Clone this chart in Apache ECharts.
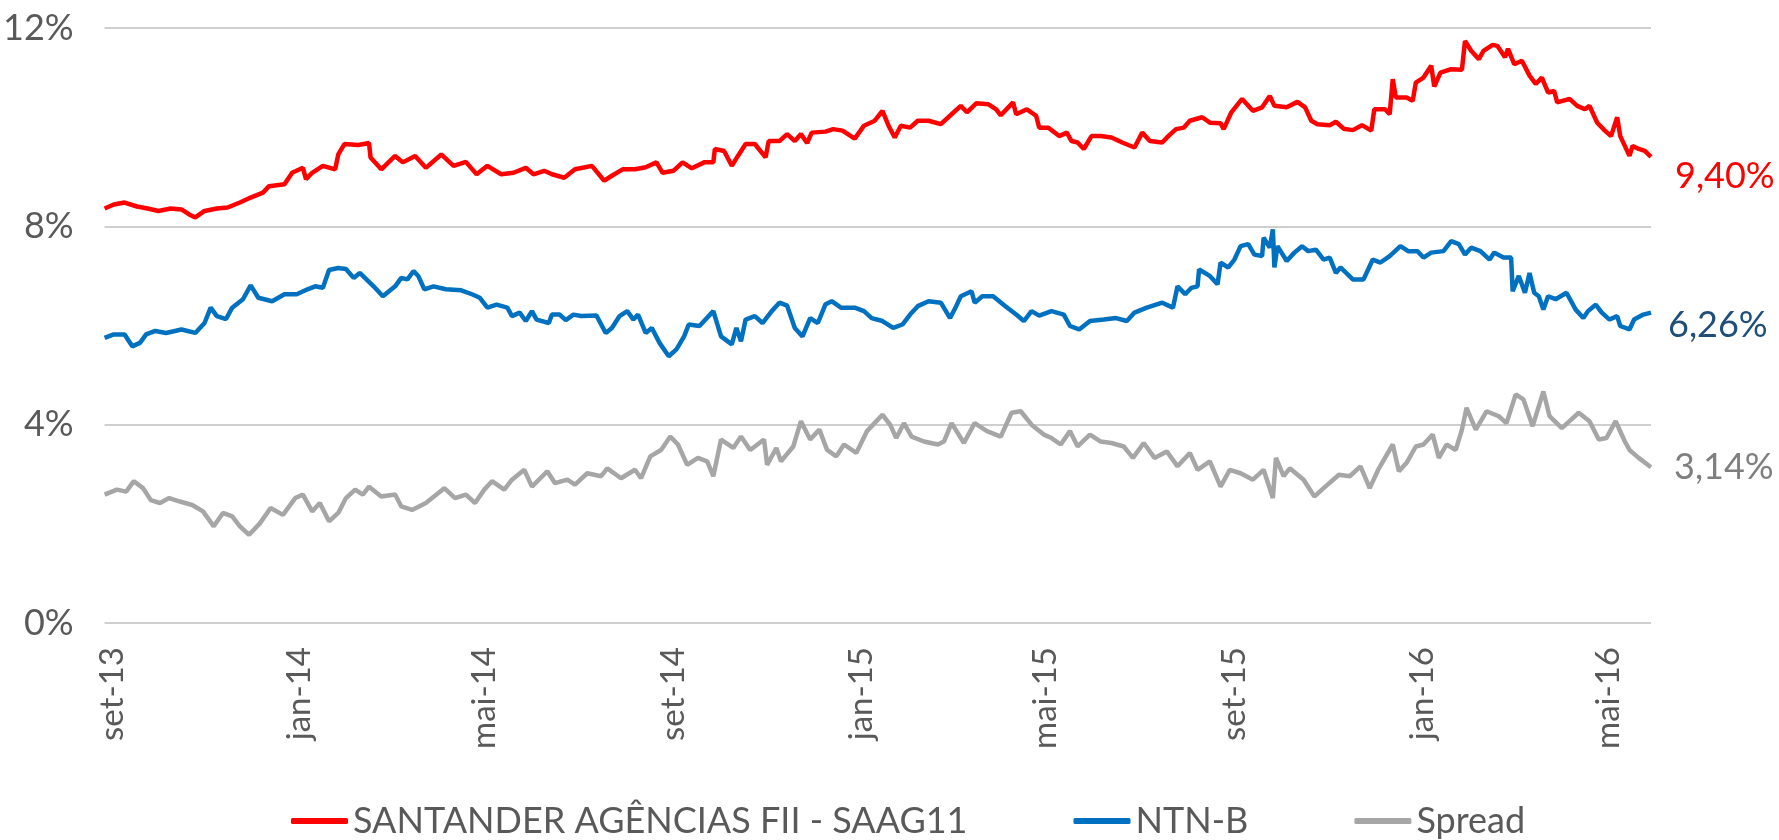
<!DOCTYPE html>
<html>
<head>
<meta charset="utf-8">
<script src="https://cdn.jsdelivr.net/npm/echarts@6/dist/echarts.min.js"></script>
<style>
  html, body { margin: 0; padding: 0; background: #fff; }
  #chart { width: 1779px; height: 840px; }
</style>
</head>
<body>
<div id="chart"></div>
<script>
// taxas (% a.a.)
const saagDates = ['2013-08-27','2013-09-02','2013-09-09','2013-09-17','2013-09-24','2013-10-01','2013-10-09','2013-10-16','2013-10-21','2013-10-25','2013-10-31','2013-11-08','2013-11-15','2013-11-23','2013-11-30','2013-12-08','2013-12-12','2013-12-22','2013-12-27','2014-01-03','2014-01-05','2014-01-09','2014-01-16','2014-01-24','2014-01-26','2014-01-30','2014-02-08','2014-02-15','2014-02-16','2014-02-23','2014-03-04','2014-03-09','2014-03-17','2014-03-24','2014-04-03','2014-04-11','2014-04-19','2014-04-26','2014-05-03','2014-05-12','2014-05-20','2014-05-28','2014-06-02','2014-06-09','2014-06-14','2014-06-22','2014-06-29','2014-07-10','2014-07-18','2014-07-23','2014-07-30','2014-08-07','2014-08-14','2014-08-21','2014-08-25','2014-09-01','2014-09-07','2014-09-13','2014-09-21','2014-09-27','2014-09-28','2014-10-04','2014-10-09','2014-10-13','2014-10-18','2014-10-24','2014-10-31','2014-11-02','2014-11-09','2014-11-14','2014-11-19','2014-11-23','2014-11-27','2014-11-30','2014-12-09','2014-12-14','2014-12-20','2014-12-28','2015-01-03','2015-01-10','2015-01-15','2015-01-19','2015-01-23','2015-01-27','2015-02-02','2015-02-07','2015-02-14','2015-02-22','2015-03-01','2015-03-07','2015-03-11','2015-03-17','2015-03-25','2015-03-30','2015-04-02','2015-04-10','2015-04-12','2015-04-19','2015-04-25','2015-04-27','2015-05-03','2015-05-10','2015-05-15','2015-05-18','2015-05-22','2015-05-26','2015-05-31','2015-06-06','2015-06-13','2015-06-20','2015-06-28','2015-07-03','2015-07-08','2015-07-16','2015-07-20','2015-07-25','2015-07-30','2015-08-03','2015-08-11','2015-08-16','2015-08-23','2015-08-25','2015-08-30','2015-09-06','2015-09-13','2015-09-19','2015-09-24','2015-09-27','2015-10-05','2015-10-12','2015-10-17','2015-10-21','2015-10-25','2015-11-02','2015-11-06','2015-11-11','2015-11-17','2015-11-23','2015-11-29','2015-12-01','2015-12-08','2015-12-11','2015-12-13','2015-12-15','2015-12-22','2015-12-26','2015-12-28','2016-01-02','2016-01-07','2016-01-09','2016-01-13','2016-01-20','2016-01-27','2016-01-29','2016-02-02','2016-02-07','2016-02-10','2016-02-16','2016-02-19','2016-02-24','2016-02-26','2016-03-01','2016-03-06','2016-03-11','2016-03-15','2016-03-19','2016-03-23','2016-03-27','2016-03-29','2016-04-06','2016-04-11','2016-04-16','2016-04-19','2016-04-24','2016-04-29','2016-05-03','2016-05-07','2016-05-09','2016-05-15','2016-05-17','2016-05-21','2016-05-25','2016-05-29'];
const saagRates = [8.36,8.44,8.48,8.40,8.36,8.31,8.36,8.34,8.24,8.18,8.31,8.36,8.38,8.48,8.58,8.68,8.81,8.85,9.08,9.18,8.95,9.08,9.22,9.15,9.45,9.66,9.64,9.68,9.39,9.15,9.42,9.29,9.42,9.18,9.45,9.22,9.30,9.05,9.22,9.05,9.08,9.18,9.05,9.12,9.05,8.98,9.15,9.22,8.92,9.02,9.15,9.15,9.19,9.29,9.08,9.12,9.29,9.17,9.29,9.29,9.56,9.52,9.22,9.42,9.66,9.66,9.39,9.72,9.72,9.86,9.72,9.86,9.68,9.89,9.91,9.96,9.93,9.77,10.03,10.13,10.33,10.03,9.79,10.03,9.99,10.13,10.13,10.06,10.26,10.43,10.30,10.48,10.46,10.36,10.24,10.50,10.26,10.36,10.23,9.99,9.99,9.82,9.89,9.72,9.69,9.56,9.82,9.82,9.79,9.69,9.59,9.89,9.72,9.69,9.82,9.96,9.99,10.13,10.20,10.09,10.08,9.96,10.30,10.57,10.33,10.40,10.63,10.43,10.40,10.51,10.40,10.13,10.06,10.04,10.11,9.97,9.94,10.04,9.93,10.36,10.36,10.26,10.97,10.60,10.60,10.53,10.90,11.00,11.24,10.82,11.10,11.17,11.16,11.74,11.54,11.37,11.54,11.66,11.64,11.41,11.58,11.27,11.34,11.04,10.87,11.00,10.70,10.73,10.50,10.57,10.43,10.36,10.43,10.09,9.93,9.82,10.20,9.82,9.42,9.62,9.56,9.52,9.40];

const ntnbDates = ['2013-08-27','2013-09-02','2013-09-09','2013-09-14','2013-09-19','2013-09-23','2013-09-29','2013-10-06','2013-10-16','2013-10-25','2013-10-31','2013-11-04','2013-11-08','2013-11-14','2013-11-18','2013-11-25','2013-11-30','2013-12-05','2013-12-14','2013-12-22','2013-12-30','2014-01-06','2014-01-11','2014-01-16','2014-01-20','2014-01-26','2014-01-31','2014-02-05','2014-02-09','2014-02-18','2014-02-24','2014-03-04','2014-03-08','2014-03-12','2014-03-16','2014-03-19','2014-03-23','2014-03-29','2014-04-06','2014-04-16','2014-04-23','2014-04-28','2014-05-03','2014-05-09','2014-05-16','2014-05-19','2014-05-24','2014-05-28','2014-06-01','2014-06-04','2014-06-12','2014-06-14','2014-06-19','2014-06-23','2014-06-28','2014-07-03','2014-07-13','2014-07-19','2014-07-23','2014-07-28','2014-08-02','2014-08-06','2014-08-09','2014-08-14','2014-08-18','2014-08-23','2014-08-29','2014-09-03','2014-09-08','2014-09-11','2014-09-18','2014-09-21','2014-09-27','2014-10-02','2014-10-09','2014-10-12','2014-10-15','2014-10-18','2014-10-24','2014-10-29','2014-11-04','2014-11-09','2014-11-14','2014-11-19','2014-11-24','2014-11-29','2014-12-04','2014-12-09','2014-12-13','2014-12-19','2014-12-28','2015-01-03','2015-01-08','2015-01-15','2015-01-22','2015-01-28','2015-02-02','2015-02-07','2015-02-14','2015-02-22','2015-02-28','2015-03-04','2015-03-07','2015-03-14','2015-03-16','2015-03-21','2015-03-28','2015-04-05','2015-04-12','2015-04-17','2015-04-22','2015-04-27','2015-05-05','2015-05-13','2015-05-17','2015-05-23','2015-05-30','2015-06-08','2015-06-16','2015-06-23','2015-06-28','2015-07-06','2015-07-16','2015-07-23','2015-07-26','2015-07-31','2015-08-04','2015-08-08','2015-08-09','2015-08-16','2015-08-21','2015-08-23','2015-08-28','2015-09-01','2015-09-05','2015-09-10','2015-09-14','2015-09-19','2015-09-20','2015-09-24','2015-09-26','2015-09-27','2015-09-29','2015-10-05','2015-10-10','2015-10-15','2015-10-19','2015-10-24','2015-10-29','2015-11-02','2015-11-06','2015-11-09','2015-11-17','2015-11-24','2015-11-30','2015-12-05','2015-12-11','2015-12-18','2015-12-23','2015-12-29','2016-01-02','2016-01-07','2016-01-15','2016-01-20','2016-01-25','2016-01-29','2016-02-02','2016-02-08','2016-02-14','2016-02-17','2016-02-23','2016-02-28','2016-02-29','2016-03-04','2016-03-08','2016-03-11','2016-03-14','2016-03-17','2016-03-20','2016-03-23','2016-03-28','2016-04-04','2016-04-10','2016-04-15','2016-04-18','2016-04-23','2016-04-27','2016-05-02','2016-05-07','2016-05-09','2016-05-15','2016-05-18','2016-05-24','2016-05-29'];
const ntnbRates = [5.75,5.82,5.82,5.58,5.65,5.82,5.89,5.85,5.92,5.85,6.05,6.36,6.19,6.13,6.36,6.53,6.81,6.56,6.49,6.63,6.63,6.73,6.79,6.76,7.12,7.16,7.14,6.96,7.06,6.79,6.59,6.79,6.96,6.93,7.10,7.00,6.73,6.79,6.73,6.71,6.63,6.56,6.36,6.42,6.36,6.19,6.26,6.09,6.29,6.12,6.05,6.22,6.22,6.11,6.22,6.19,6.20,5.85,5.95,6.19,6.29,6.12,6.22,5.85,5.95,5.65,5.38,5.52,5.78,6.02,5.99,6.09,6.29,5.78,5.62,5.95,5.68,6.12,6.19,6.05,6.29,6.46,6.40,5.95,5.78,6.15,6.05,6.43,6.49,6.36,6.36,6.29,6.15,6.09,5.95,6.02,6.22,6.39,6.49,6.46,6.15,6.39,6.59,6.69,6.46,6.59,6.59,6.39,6.22,6.09,6.29,6.20,6.29,6.22,5.99,5.92,6.09,6.12,6.15,6.09,6.26,6.36,6.46,6.36,6.79,6.63,6.76,6.79,7.13,7.00,6.83,7.27,7.17,7.33,7.60,7.64,7.43,7.40,7.77,7.57,7.94,7.17,7.60,7.30,7.47,7.60,7.50,7.53,7.33,7.37,7.06,7.17,6.93,6.93,7.33,7.27,7.40,7.60,7.50,7.50,7.37,7.47,7.50,7.70,7.64,7.43,7.57,7.50,7.33,7.47,7.37,7.37,6.69,7.00,6.66,7.06,6.66,6.59,6.32,6.59,6.53,6.66,6.32,6.15,6.29,6.42,6.26,6.12,6.19,5.99,5.92,6.12,6.22,6.26];

const spreadDates = ['2013-08-27','2013-09-04','2013-09-10','2013-09-15','2013-09-21','2013-09-26','2013-10-02','2013-10-08','2013-10-15','2013-10-23','2013-10-30','2013-11-06','2013-11-12','2013-11-18','2013-11-23','2013-11-29','2013-12-06','2013-12-13','2013-12-21','2013-12-29','2014-01-03','2014-01-09','2014-01-14','2014-01-20','2014-01-26','2014-01-31','2014-02-06','2014-02-11','2014-02-15','2014-02-23','2014-03-04','2014-03-08','2014-03-15','2014-03-24','2014-04-05','2014-04-12','2014-04-19','2014-04-25','2014-05-01','2014-05-06','2014-05-14','2014-05-19','2014-05-27','2014-06-01','2014-06-11','2014-06-16','2014-06-24','2014-06-29','2014-07-07','2014-07-16','2014-07-20','2014-07-29','2014-08-07','2014-08-11','2014-08-17','2014-08-24','2014-08-30','2014-09-04','2014-09-10','2014-09-17','2014-09-23','2014-09-27','2014-10-02','2014-10-10','2014-10-15','2014-10-21','2014-10-30','2014-11-01','2014-11-07','2014-11-10','2014-11-18','2014-11-23','2014-11-29','2014-12-05','2014-12-10','2014-12-16','2014-12-21','2014-12-29','2015-01-05','2015-01-15','2015-01-20','2015-01-24','2015-01-29','2015-02-03','2015-02-11','2015-02-20','2015-02-24','2015-03-01','2015-03-09','2015-03-16','2015-03-24','2015-04-02','2015-04-09','2015-04-15','2015-04-22','2015-04-30','2015-05-05','2015-05-11','2015-05-17','2015-05-22','2015-05-30','2015-06-06','2015-06-13','2015-06-21','2015-06-27','2015-07-04','2015-07-11','2015-07-19','2015-07-26','2015-08-03','2015-08-08','2015-08-16','2015-08-23','2015-08-29','2015-09-05','2015-09-13','2015-09-20','2015-09-26','2015-09-28','2015-10-03','2015-10-07','2015-10-16','2015-10-23','2015-10-29','2015-11-08','2015-11-15','2015-11-22','2015-11-28','2015-12-04','2015-12-13','2015-12-17','2015-12-22','2015-12-28','2016-01-02','2016-01-08','2016-01-12','2016-01-17','2016-01-23','2016-01-27','2016-01-30','2016-02-05','2016-02-12','2016-02-20','2016-02-25','2016-03-02','2016-03-07','2016-03-13','2016-03-20','2016-03-24','2016-04-01','2016-04-06','2016-04-12','2016-04-19','2016-04-25','2016-04-30','2016-05-06','2016-05-12','2016-05-15','2016-05-21','2016-05-29'];
const spreadRates = [2.59,2.69,2.65,2.86,2.72,2.48,2.42,2.52,2.45,2.38,2.25,1.95,2.22,2.15,1.95,1.78,2.01,2.32,2.18,2.52,2.59,2.25,2.42,2.05,2.22,2.52,2.69,2.59,2.75,2.55,2.59,2.35,2.28,2.42,2.72,2.52,2.59,2.42,2.69,2.86,2.69,2.89,3.09,2.75,3.06,2.82,2.89,2.79,3.02,2.96,3.12,2.92,3.09,2.92,3.36,3.49,3.76,3.60,3.19,3.33,3.26,2.96,3.70,3.53,3.76,3.49,3.70,3.19,3.53,3.26,3.56,4.07,3.70,3.90,3.49,3.36,3.60,3.43,3.87,4.20,4.00,3.73,4.03,3.76,3.66,3.60,3.66,4.03,3.63,4.03,3.87,3.76,4.24,4.27,4.00,3.80,3.73,3.60,3.87,3.56,3.80,3.66,3.63,3.56,3.33,3.63,3.33,3.46,3.16,3.43,3.09,3.26,2.75,3.09,3.02,2.89,3.09,2.52,3.33,2.96,3.12,2.89,2.55,2.72,2.99,2.96,3.16,2.72,3.12,3.60,3.06,3.23,3.56,3.60,3.80,3.33,3.60,3.49,3.90,4.34,3.90,4.27,4.17,4.03,4.61,4.51,3.97,4.67,4.17,3.93,4.07,4.24,4.07,3.70,3.73,4.07,3.66,3.49,3.33,3.14];

const tickDates = ['2013-09-01','2014-01-01','2014-05-01','2014-09-01','2015-01-01','2015-05-01','2015-09-01','2016-01-01','2016-05-01'];
const tickLabels = ['set-13','jan-14','mai-14','set-14','jan-15','mai-15','set-15','jan-16','mai-16'];

const yTicks = [0, 4, 8, 12];

function toTime(s) {
    let p = s.split('-');
    return new Date(+p[0], +p[1] - 1, +p[2]).getTime();
}
function zip(dates, vals) {
    return dates.map((d, i) => [toTime(d), vals[i]]);
}
function pct(v) {
    return v.toFixed(2).replace('.', ',') + '%';
}

const FONT = 'Lato';
const TXT = '#595959';

var myChart = echarts.init(document.getElementById('chart'));
let tickTimes = tickDates.map(toTime);

let option = {
    animation: false,
    backgroundColor: '#ffffff',
    textStyle: { fontFamily: FONT },
    grid: { left: 101, right: 128, top: 28, bottom: 217 },
    legend: {
        left: 286,
        top: 798,
        itemWidth: 57,
        itemHeight: 6,
        itemGap: 106,
        icon: 'roundRect',
        textStyle: { fontFamily: FONT, fontSize: 36, color: TXT },
        data: ['SANTANDER AGÊNCIAS FII - SAAG11', 'NTN-B', 'Spread']
    },
    // eixo de datas como valor (timestamps), rotulos a cada 4 meses
    xAxis: {
        type: 'value',
        min: toTime('2013-08-27'),
        max: toTime('2016-05-29'),
        axisLine: { show: false },
        axisTick: { show: false },
        splitLine: { show: false },
        axisLabel: {
            customValues: tickTimes,
            rotate: 90,
            margin: 24,
            fontFamily: FONT,
            fontSize: 33,
            color: TXT,
            formatter: function (v) {
                let i = tickTimes.indexOf(v);
                return i >= 0 ? tickLabels[i] : '';
            }
        }
    },
    yAxis: {
        type: 'value',
        min: yTicks[0],
        max: yTicks[yTicks.length - 1],
        interval: 4,
        axisLine: { show: false },
        axisTick: { show: false },
        splitLine: { lineStyle: { color: '#BFBFBF', width: 1.5 } },
        axisLabel: {
            margin: 31,
            fontFamily: FONT,
            fontSize: 36,
            color: TXT,
            formatter: '{value}%'
        }
    },
    series: [{
            name: 'SANTANDER AGÊNCIAS FII - SAAG11',
            type: 'line',
            showSymbol: false,
            color: '#FF0000',
            lineStyle: { width: 4.5, color: '#FF0000' },
            data: zip(saagDates, saagRates),
            endLabel: {
                show: true,
                offset: [16, 19],
                fontFamily: FONT,
                fontSize: 36,
                color: '#FF0000',
                formatter: p => pct(p.value[1])
            }
        },
        {
            name: 'NTN-B',
            type: 'line',
            showSymbol: false,
            color: '#0070C0',
            lineStyle: { width: 4.5, color: '#0070C0' },
            data: zip(ntnbDates, ntnbRates),
            endLabel: {
                show: true,
                offset: [9, 13],
                fontFamily: FONT,
                fontSize: 36,
                color: '#1F4E79',
                formatter: p => pct(p.value[1])
            }
        },
        {
            name: 'Spread',
            type: 'line',
            showSymbol: false,
            color: '#A6A6A6',
            lineStyle: { width: 4.5, color: '#A6A6A6' },
            data: zip(spreadDates, spreadRates),
            endLabel: {
                show: true,
                offset: [15, 0],
                fontFamily: FONT,
                fontSize: 36,
                color: '#7F7F7F',
                formatter: p => pct(p.value[1])
            }
        }
    ]
};
myChart.setOption(option);
</script>
</body>
</html>
